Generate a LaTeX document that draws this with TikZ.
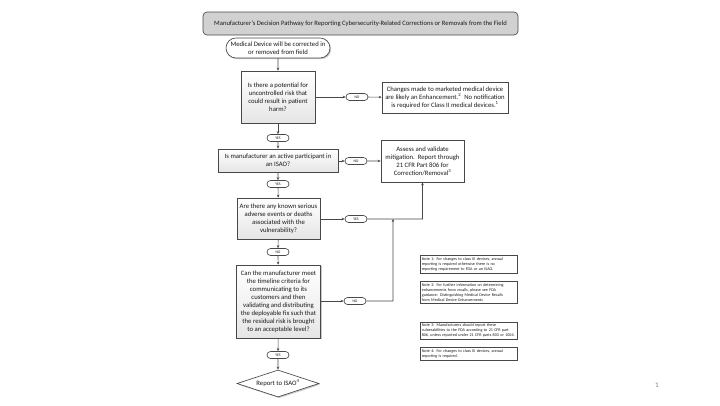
\documentclass[tikz,border=0pt]{standalone}
\usepackage{fontspec}
\setmainfont{Carlito}
\usetikzlibrary{shapes.geometric,shapes.misc,shadows,arrows.meta}
\definecolor{lineC}{HTML}{484848}
\definecolor{txtC}{HTML}{1A1A1A}
\tikzset{
  base/.style={draw=lineC, line width=0.65pt, text=txtC, align=center, inner sep=0pt},
  shad/.style={drop shadow={shadow xshift=1.2pt, shadow yshift=-1.2pt, fill=black!35, opacity=0.6}},
  mainfont/.style={font=\fontsize{6.7}{8}\selectfont},
  box/.style={base, rectangle, shad, top color=white, bottom color=black!10, mainfont},
  plainbox/.style={base, rectangle, fill=white, mainfont},
  terminal/.style={base, rounded rectangle, fill=white, shad, mainfont},
  lab/.style={base, rounded rectangle, fill=white, minimum width=22pt, minimum height=7pt, font=\fontsize{3.8}{4}\selectfont},
  notebox/.style={base, rectangle, fill=white, align=left, anchor=north west, minimum width=97pt, text width=94pt, inner xsep=1.5pt, font=\fontsize{4.1}{5}\selectfont},
  conn/.style={draw=lineC, line width=0.65pt, -{Stealth[length=3pt,width=2.6pt]}},
}
\begin{document}
\begin{tikzpicture}[x=1pt,y=-1pt]
\useasboundingbox (0,0) rectangle (720,405);
\fill[white] (0,0) rectangle (720,405);
% title
\node[base, rounded corners=4pt, fill=black!18, minimum width=315pt, minimum height=23pt, font=\fontsize{6.6}{8}\selectfont] (title) at (360.5,23.5) {Manufacturer's Decision Pathway for Reporting Cybersecurity-Related Corrections or Removals from the Field};
% start
\node[terminal, minimum width=104pt, minimum height=20pt] (start) at (278,48) {Medical Device will be corrected in\\or removed from field};
% decision 1
\node[box, minimum width=74pt, minimum height=52pt] (q1) at (278,97) {Is there a potential for\\uncontrolled risk that\\could result in patient\\harm?};
\node[lab] (no1) at (357,97) {NO};
\node[plainbox, minimum width=126pt, minimum height=31pt] (r1) at (445,97.5) {Changes made to marketed medical device\\are likely an Enhancement.\textsuperscript{2}\ \ No notification\\is required for Class II medical devices.\textsuperscript{1}};
% decision 2
\node[lab] (yes1) at (278,138) {YES};
\node[box, minimum width=120pt, minimum height=23pt] (q2) at (278,160.5) {Is manufacturer an active participant in\\an ISAO?};
\node[lab] (no2) at (356,161) {NO};
\node[plainbox, shad, minimum width=83pt, minimum height=42pt] (assess) at (422.5,161) {Assess and validate\\mitigation.\ \ Report through\\21 CFR Part 806 for\\Correction/Removal\textsuperscript{3}};
% decision 3
\node[lab] (yes2) at (278,184) {YES};
\node[box, minimum width=83pt, minimum height=41pt] (q3) at (278.5,218.5) {Are there any known serious\\adverse events or deaths\\associated with the\\vulnerability?};
\node[lab] (yes3) at (356,219) {YES};
% decision 4
\node[lab] (no3) at (278,252) {NO};
\node[box, minimum width=84pt, minimum height=73pt] (q4) at (278.5,301.5) {Can the manufacturer meet\\the timeline criteria for\\communicating to its\\customers and then\\validating and distributing\\the deployable fix such that\\the residual risk is brought\\to an acceptable level?};
\node[lab] (no4) at (355,301) {NO};
\node[lab] (yes4) at (278,355) {YES};
\node[base, diamond, aspect=3.04, minimum width=82pt, minimum height=27pt, fill=white, shad, mainfont] (isao) at (278,383.5) {Report to ISAO\textsuperscript{4}};
% junction points
\coordinate (cornerA) at (422,219);
\coordinate (cornerB) at (393,301);
\coordinate (joinB) at (393,219);
% connectors
\draw[conn] (start) -- (q1);
\draw[conn] (q1) -- (no1);
\draw[conn] (no1) -- (r1);
\draw[conn] (q1) -- (yes1);
\draw[conn] (yes1) -- (q2);
\draw[conn] (q2.east |- no2) -- (no2);
\draw[conn] (no2) -- (assess.west |- no2);
\draw[conn] (q2) -- (yes2);
\draw[conn] (yes2) -- (q3);
\draw[conn] (q3.east |- yes3) -- (yes3);
\draw[conn] (yes3) -- (cornerA) -- (assess.south |- cornerA) -- (assess.south);
\draw[conn] (q3) -- (no3);
\draw[conn] (no3) -- (q4);
\draw[conn] (q4.east |- no4) -- (no4);
\draw[conn] (no4) -- (cornerB) -- (joinB);
\draw[conn] (q4) -- (yes4);
\draw[conn] (yes4) -- (isao);
% notes
\node[notebox, minimum height=18pt] (n1) at (420,255) {Note 1: For changes to class III devices, annual\\reporting is required otherwise there is no\\reporting requirement to FDA or an ISAO.};
\node[notebox, minimum height=22pt] (n2) at (420,281) {Note 2: For further information on determining\\enhancements from recalls, please see FDA\\guidance: Distinguishing Medical Device Recalls\\from Medical Device Enhancements};
\node[notebox, minimum height=17pt] (n3) at (420,322) {Note 3: Manufacturers should report these\\vulnerabilities to the FDA according to 21 CFR part\\806, unless reported under 21 CFR parts 803 or 1004.};
\node[notebox, minimum height=13pt] (n4) at (420,347) {Note 4: For changes to class III devices, annual\\reporting is required.};
% page number
\node[text=black!50, font=\fontsize{7}{8}\selectfont, inner sep=0pt] (pg) at (657,385) {1};
\end{tikzpicture}
\end{document}
